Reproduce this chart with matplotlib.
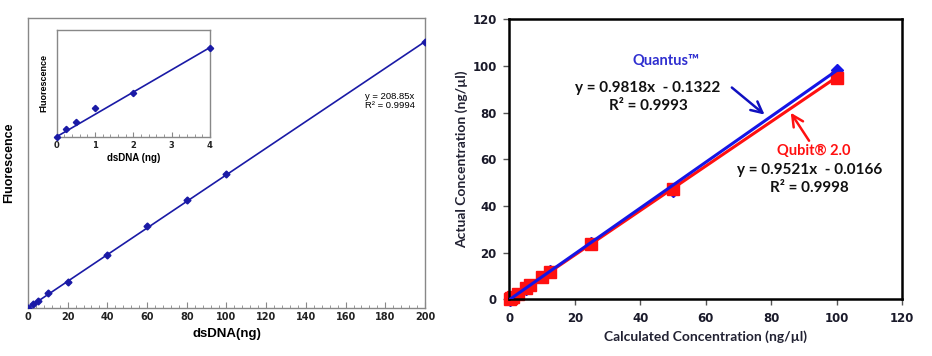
import numpy as np
import matplotlib
matplotlib.use("Agg")
import matplotlib.pyplot as plt
from matplotlib.ticker import MultipleLocator

# --- left panel: standard curve (main + inset) ---
dna_ng = [0, 2.5, 5, 10, 20, 40, 60, 80, 100, 200]
fluor = [0, 627, 1146, 2350, 4074, 8352, 12897, 16970, 21045, 41770]
inset_ng = [0, 0.25, 0.5, 1, 2, 4]
inset_fluor = [0, 71, 134, 273, 413, 835]
slope_std = 208.85

# --- right panel: Quantus vs Qubit ---
calc_conc = [0.1, 0.5, 1, 2.5, 5, 6.25, 10, 12.5, 25, 50, 100]
quantus = [-0.1, 0.4, 0.9, 2.3, 4.6, 6.0, 9.7, 12.1, 24.0, 46.3, 98.4]
qubit = [0.1, 0.5, 1.0, 2.4, 4.8, 6.0, 9.6, 11.9, 23.8, 47.5, 94.9]
quantus_fit = (0.9818, -0.1322)
qubit_fit = (0.9521, -0.0166)

navy = "#1a1aa6"
blue = "#1515e6"
red = "#ff1010"

fig = plt.figure(figsize=(9.32, 3.56), dpi=100)

# main left axes
ax1 = fig.add_axes([0.030, 0.135, 0.426, 0.815])
xs = np.array([0, 200])
ax1.plot(xs, slope_std * xs, color=navy, lw=1.2, zorder=2)
ax1.plot(dna_ng, fluor, ls="none", marker="D", ms=3.5, color=navy, zorder=3)
ax1.set_xlim(0, 200)
ax1.set_ylim(0, 45500)
ax1.xaxis.set_major_locator(MultipleLocator(20))
ax1.xaxis.set_minor_locator(MultipleLocator(4))
ax1.set_yticks([])
ax1.tick_params(axis="x", which="both", direction="in", colors="#888888",
                labelcolor="#222222", labelsize=7, pad=3)
ax1.tick_params(axis="x", which="major", length=4)
ax1.tick_params(axis="x", which="minor", length=2.5)
for lbl in ax1.get_xticklabels():
    lbl.set_fontweight("bold")
for sp in ax1.spines.values():
    sp.set_color("#888888")
    sp.set_linewidth(1.0)
ax1.set_xlabel("dsDNA(ng)", fontsize=9.5, fontweight="bold", family="Liberation Sans", labelpad=4)
ax1.set_ylabel("Fluorescence", fontsize=9, fontweight="bold", family="Liberation Sans", labelpad=9)
ax1.text(169.8, 33220, "y = 208.85x", fontsize=6.8, family="Liberation Sans", va="center")
ax1.text(169.8, 31810, "R² = 0.9994", fontsize=6.8, family="Liberation Sans", va="center")

# inset
ax2 = fig.add_axes([0.0608, 0.616, 0.1645, 0.300])
xi = np.array([0, 4])
ax2.plot(xi, slope_std * xi, color=navy, lw=1.2, zorder=2)
ax2.plot(inset_ng, inset_fluor, ls="none", marker="D", ms=3.2, color=navy, zorder=3, clip_on=False)
ax2.set_xlim(0, 4)
ax2.set_ylim(0, 1000)
ax2.xaxis.set_major_locator(MultipleLocator(1))
ax2.xaxis.set_minor_locator(MultipleLocator(0.2))
ax2.set_yticks([])
ax2.tick_params(axis="x", which="both", direction="in", colors="#888888",
                labelcolor="#222222", labelsize=6, pad=3)
ax2.tick_params(axis="x", which="major", length=3.5)
ax2.tick_params(axis="x", which="minor", length=2)
for lbl in ax2.get_xticklabels():
    lbl.set_fontweight("bold")
for sp in ax2.spines.values():
    sp.set_color("#888888")
    sp.set_linewidth(1.0)
ax2.set_xlabel("dsDNA (ng)", fontsize=7, fontweight="bold", family="Liberation Sans", labelpad=2)
ax2.set_ylabel("Fluorescence", fontsize=6.5, fontweight="bold", family="Liberation Sans", labelpad=6)

# right panel
ax3 = fig.add_axes([0.5465, 0.159, 0.4213, 0.7865])
xf = np.array([0, 100])
ax3.plot(xf, quantus_fit[0] * xf + quantus_fit[1], color=blue, lw=2.2, zorder=3)
ax3.plot(xf, qubit_fit[0] * xf + qubit_fit[1], color=red, lw=2.2, zorder=2)
ax3.plot(calc_conc, quantus, ls="none", marker="D", ms=6, color=blue, zorder=1, clip_on=False)
ax3.plot(calc_conc, qubit, ls="none", marker="s", ms=8, color=red, zorder=2, clip_on=False)
ax3.set_xlim(0, 120)
ax3.set_ylim(0, 120)
ax3.xaxis.set_major_locator(MultipleLocator(20))
ax3.yaxis.set_major_locator(MultipleLocator(20))
ax3.tick_params(axis="both", direction="out", length=4, width=1, color="#555555",
                labelsize=8.5, labelcolor="#1a1a2a", pad=5)
for lbl in ax3.get_xticklabels() + ax3.get_yticklabels():
    lbl.set_fontweight("bold")
for sp in ax3.spines.values():
    sp.set_color("black")
    sp.set_linewidth(1.8)
ax3.set_xlabel("Calculated Concentration (ng/µl)", fontsize=10, fontweight="bold",
               family="Lato", color="#222233", labelpad=4)
ax3.set_ylabel("Actual Concentration (ng/µl)", fontsize=10, fontweight="bold",
               family="Lato", color="#222233", labelpad=3)

ax3.text(47.8, 102.1, "Quantus™", color="#2f2fd0", fontsize=10.5, fontweight="bold",
         family="Lato", ha="center", va="center")
ax3.text(42.4, 90.7, "y = 0.9818x  - 0.1322", color="#111111", fontsize=11, fontweight="bold",
         family="Lato", ha="center", va="center")
ax3.text(42.4, 82.8, "R² = 0.9993", color="#111111", fontsize=11, fontweight="bold",
         family="Lato", ha="center", va="center")
ax3.text(92.9, 63.7, "Qubit® 2.0", color=red, fontsize=10.5, fontweight="bold",
         family="Lato", ha="center", va="center")
ax3.text(91.7, 55.4, "y = 0.9521x  - 0.0166", color="#111111", fontsize=11, fontweight="bold",
         family="Lato", ha="center", va="center")
ax3.text(91.7, 47.6, "R² = 0.9998", color="#111111", fontsize=11, fontweight="bold",
         family="Lato", ha="center", va="center")
ax3.annotate("", xy=(78.0, 79.2), xytext=(68.0, 90.8),
             arrowprops=dict(arrowstyle="->", color="#1010c0", lw=1.8, mutation_scale=20,
                             shrinkA=0, shrinkB=0))
ax3.annotate("", xy=(86.0, 80.0), xytext=(91.6, 68.0),
             arrowprops=dict(arrowstyle="->", color=red, lw=1.8, mutation_scale=20,
                             shrinkA=0, shrinkB=0))

fig.savefig("out.png", dpi=100)
